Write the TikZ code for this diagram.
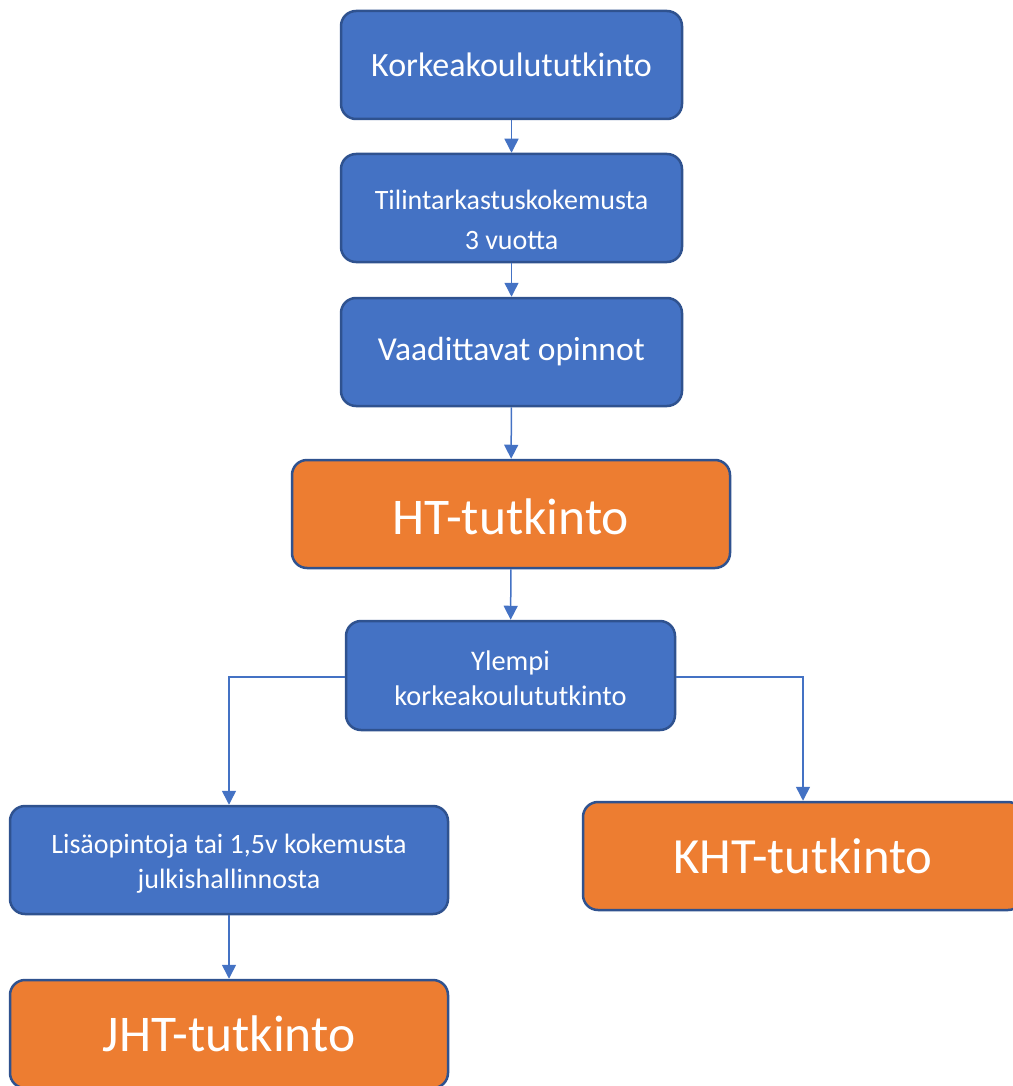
\documentclass[tikz,border=0pt]{standalone}
\usepackage{fontspec}
\setmainfont{Carlito}
\usetikzlibrary{arrows.meta}
\definecolor{bfill}{HTML}{4472C4}
\definecolor{bline}{HTML}{2F528F}
\definecolor{ofill}{HTML}{ED7D31}
\tikzset{
  box/.style={draw=bline, line width=2.5pt, rounded corners=15pt, text=white, align=center, inner sep=0pt},
  bluebox/.style={box, fill=bfill},
  orangebox/.style={box, fill=ofill},
  boxtext/.style={text=white, align=center, inner sep=0pt},
  conn/.style={draw=bfill, line width=1.5pt, -{Triangle[width=14pt,length=14pt]}}
}
\begin{document}
\begin{tikzpicture}[x=1pt,y=-1pt]
\useasboundingbox (0,0) rectangle (1012,1086);
\node[bluebox, minimum width=341pt, minimum height=108pt, font=\fontsize{34}{40}\selectfont] (k) at (511.5,65) {Korkeakoulututkinto};
\node[bluebox, minimum width=341pt, minimum height=108pt,
  label={[boxtext, yshift=-12pt, font=\fontsize{28}{40}\selectfont]center:Tilintarkastuskokemusta\\3 vuotta}] (t) at (511.5,208) {};
\node[bluebox, minimum width=341pt, minimum height=108pt, font=\fontsize{33.5}{40}\selectfont] (v) at (511.5,352) {Vaadittavat opinnot};
\node[orangebox, minimum width=438pt, minimum height=108pt,
  label={[boxtext, yshift=-3pt, font=\fontsize{51.5}{58}\selectfont]center:HT-tutkinto}] (ht) at (511,514) {};
\node[bluebox, minimum width=329pt, minimum height=109pt,
  label={[boxtext, yshift=-3pt, font=\fontsize{28.4}{35}\selectfont]center:Ylempi\\korkeakoulututkinto}] (y) at (510.5,675.5) {};
\node[bluebox, minimum width=438pt, minimum height=108pt,
  label={[boxtext, yshift=-4pt, font=\fontsize{28}{35}\selectfont]center:Lisäopintoja tai 1,5v kokemusta\\julkishallinnosta}] (l) at (229,860) {};
\node[orangebox, minimum width=440pt, minimum height=108pt, font=\fontsize{50.7}{58}\selectfont] (kht) at (803,856) {KHT-tutkinto};
\node[orangebox, minimum width=438pt, minimum height=108pt, font=\fontsize{51.5}{58}\selectfont] (jht) at (229,1034) {JHT-tutkinto};
\draw[conn] (k) -- (t);
\draw[conn] (t) -- (v);
\draw[conn] (v) -- (ht);
\draw[conn] (ht) -- (y);
\draw[conn] (y.west |- 0,677) -| (l.north);
\draw[conn] (y.east |- 0,677) -| (kht.north);
\draw[conn] (l) -- (jht);
\end{tikzpicture}
\end{document}
